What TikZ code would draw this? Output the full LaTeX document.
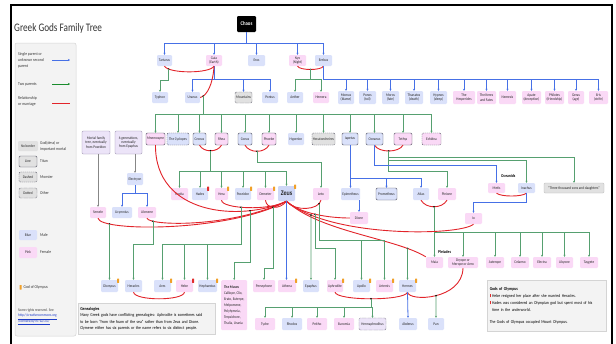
\documentclass[tikz,border=0pt]{standalone}
\usepackage{fontspec}
\setmainfont{Carlito}[FakeStretch=0.86]
\newfontfamily\titlefont{Carlito}[FakeStretch=0.8]
\usetikzlibrary{arrows.meta,intersections}
\pgfdeclarelayer{bg}\pgfsetlayers{bg,main}
\definecolor{bF}{RGB}{218,225,250}
\definecolor{pF}{RGB}{250,217,246}
\definecolor{gF}{RGB}{225,225,225}
\definecolor{lvF}{RGB}{236,228,248}
\definecolor{zF}{RGB}{206,215,246}
\definecolor{tB}{RGB}{85,85,100}
\definecolor{bL}{RGB}{70,112,230}
\definecolor{gL}{RGB}{86,160,112}
\definecolor{gLeg}{RGB}{25,140,45}
\definecolor{rL}{RGB}{226,36,42}
\definecolor{oM}{RGB}{240,160,40}
\definecolor{rM}{RGB}{225,45,45}
\definecolor{gyL}{RGB}{135,135,135}
\definecolor{panel}{RGB}{243,243,243}
\definecolor{panelB}{RGB}{212,212,212}
\definecolor{ocF}{RGB}{232,240,252}
\definecolor{ocB}{RGB}{195,205,225}
\definecolor{plF}{RGB}{222,222,222}
\definecolor{plB}{RGB}{185,185,185}
\definecolor{lnk}{RGB}{30,60,200}
\definecolor{mtB}{RGB}{150,140,170}
\newcommand\nf{\fontsize{3.9}{4.4}\selectfont}
\newcommand\lf{\fontsize{4.3}{6.3}\selectfont}
\newcommand\gf{\fontsize{4.4}{6.3}\selectfont}
\newcommand\GN[7]{\node[#2,minimum width={#4-#3},minimum height={#6-#5}] (#1) at ({(#3+#4)/2},{(#5+#6)/2}) {#7};}
\newcommand\MK[2]{\fill[#2,rounded corners=0.4pt] ([xshift=-1.2pt,yshift=1.2pt]#1.north east) rectangle ++(2.2,4.2);}
\newcommand\VDOT[3]{\path[name path=vtmp] (#2) ++(0,-150) -- ++(0,300); \path[name intersections={of=#1 and vtmp,by=#3}]; \fill (#3) circle (0.9);}
\tikzset{
 bx/.style={rounded corners=1.2pt,inner sep=0pt,align=center,font=\nf,text=black!85},
 bm/.style={bx,fill=bF},
 pf/.style={bx,fill=pF},
 gy/.style={bx,fill=gF},
 lv/.style={bx,fill=lvF},
 ttn/.style={draw=tB,line width=0.45pt},
 mon/.style={draw=tB,line width=0.45pt,dash pattern=on 1.2pt off 0.8pt},
 oth/.style={draw=tB,line width=0.45pt,dash pattern=on 0.45pt off 0.6pt},
 bl/.style={draw=bL,line width=0.8pt},
 gr/.style={draw=gL,line width=0.8pt},
 rd/.style={draw=rL,line width=0.9pt},
 gw/.style={draw=gyL,line width=0.6pt},
 ar/.style={-{Stealth[length=2pt,width=2pt]}},
 lt/.style={anchor=west,align=left,font=\lf,inner sep=0pt,text=black!80},
}
\begin{document}
\begin{tikzpicture}[x=1pt,y=-1pt]
\useasboundingbox (0,0) rectangle (616,343);
\fill[white] (0,0) rectangle (616,343);
\draw[line width=1.8pt] (11,5) rectangle (612,352);
\node[anchor=base west,font=\titlefont\fontsize{11.5}{12}\selectfont,inner sep=0pt,text=black!80] (title) at (14,31) {Greek Gods Family Tree};

% ---------- legend ----------
\draw[panelB,fill=panel,rounded corners=2pt,line width=.5pt] (15,43) rectangle (76,336);
\node[lt,anchor=north west] (lg1) at (18,52) {Single parent or\\unknown second\\parent};
\coordinate (la1) at (52,60); \coordinate (lb1) at (70,60); \draw[bl,ar] (la1) -- (lb1);
\node[lt] (lg2) at (18,84) {Two parents};
\coordinate (la2) at (52,84); \coordinate (lb2) at (70,84); \draw[draw=gLeg,line width=.8pt,ar] (la2) -- (lb2);
\node[lt] (lg3) at (18,101.5) {Relationship\\or marriage};
\coordinate (la3) at (52,103); \coordinate (lb3) at (70,103); \draw[rd] (la3) -- (lb3);
\GN{lnb}{gy}{18}{38}{141}{151}{No border}
\node[lt] (lnbt) at (40,146) {God(dess) or\\important mortal};
\GN{lln}{gy,ttn}{19}{37}{156}{167}{Line}
\node[lt] (llnt) at (40,161.5) {Titan};
\GN{lds}{gy,mon}{19}{37}{172}{182}{Dashed}
\node[lt] (ldst) at (40,177) {Monster};
\GN{ldt}{gy,oth}{19}{37}{188}{198}{Dotted}
\node[lt] (ldtt) at (40,193) {Other};
\GN{lbl}{bm}{19}{37}{230}{240}{Blue}
\node[lt] (lblt) at (40,235) {Male};
\GN{lpk}{pf}{19}{37}{247}{258}{Pink}
\node[lt] (lpkt) at (40,252.5) {Female};
\fill[oM,rounded corners=.4pt] (19.5,285) rectangle (21.7,289.5);
\node[lt] (lgot) at (23.5,287.3) {God of Olympus};
\node[anchor=north west,align=left,font=\fontsize{3.9}{5.5}\selectfont,inner sep=0pt,text=black!75] (cc) at (18,308.5) {Some rights reserved. See\\\textcolor{lnk}{\underline{http://creativecommons.org}}\\\textcolor{lnk}{\underline{/licenses/by-nc-sa/3.0/}}};

% ---------- group boxes ----------
\begin{pgfonlayer}{bg}
\node[draw=ocB,fill=ocF,rounded corners=2.5pt,line width=.5pt,minimum width=120,minimum height=26,anchor=north west,inner sep=0pt] (ocbox) at (487,170) {};
\node[draw=plB,fill=plF,rounded corners=3pt,line width=.5pt,minimum width=178,minimum height=25,anchor=north west,inner sep=0pt] (plbox) at (423,248) {};
\end{pgfonlayer}
\node[anchor=west,font=\bfseries\fontsize{4.3}{5}\selectfont,inner sep=0pt] (oclab) at (501,176) {Oceanids};
\node[anchor=west,font=\bfseries\fontsize{4.3}{5}\selectfont,inner sep=0pt] (pllab) at (438,252) {Pleiades};

% ---------- nodes ----------
\GN{chaos}{bx,fill=black,text=white,font=\bfseries\fontsize{5.5}{6}\selectfont}{237}{256}{16}{32}{Chaos}
\GN{tartarus}{bm}{157}{172}{55}{66}{Tartarus}
\GN{gaia}{pf}{206}{222}{55}{66}{Gaia\\(Earth)}
\GN{eros}{bm}{248}{265}{55}{66}{Eros}
\GN{nyx}{pf}{289}{306}{55}{66}{Nyx\\(Night)}
\GN{erebus}{bm}{315}{332}{55}{66}{Erebus}

\GN{typhon}{bm}{152}{168}{92}{103}{Typhon}
\GN{uranus}{bm}{185}{200}{92}{103}{Uranus}
\GN{mountains}{gy,oth}{235}{252}{92}{103}{Mountains}
\GN{pontus}{bm}{262}{278}{92}{103}{Pontus}
\GN{aether}{bm}{287}{303}{92}{103}{Aether}
\GN{hemera}{pf}{313}{329}{92}{103}{Hemera}
\GN{momus}{bm}{338}{354}{91}{104}{Momus\\(blame)}
\GN{ponos}{bm}{359}{376}{91}{104}{Ponos\\(toil)}
\GN{moros}{bm}{382}{399}{91}{104}{Moros\\(fate)}
\GN{thanatos}{bm}{405}{423}{91}{104}{Thanatos\\(death)}
\GN{hypnos}{bm}{430}{447}{91}{104}{Hypnos\\(sleep)}
\GN{hesperides}{pf}{453}{475}{91}{104}{The\\Hesperides}
\GN{keres}{pf}{477}{496}{91}{104}{The Keres\\and Fates}
\GN{nemesis}{pf}{499}{516}{91}{104}{Nemesis}
\GN{apate}{pf}{522}{541}{91}{104}{Apate\\(deception)}
\GN{philotes}{pf}{545}{564}{91}{104}{Philotes\\(friendship)}
\GN{geras}{pf}{568}{584}{91}{104}{Geras\\(age)}
\GN{eris}{pf}{589}{608}{91}{104}{Eris\\(strife)}

\GN{mnemosyne}{pf,ttn}{146}{165}{133}{145}{Mnemosyne}
\GN{cyclopes}{bm,mon}{167}{189}{133}{145}{The Cyclopes}
\GN{cronus}{bm,ttn}{193}{206}{133}{145}{Cronus}
\GN{rhea}{pf,ttn}{215}{228}{133}{145}{Rhea}
\GN{coeus}{bm,ttn}{238}{252}{133}{145}{Coeus}
\GN{phoebe}{pf,ttn}{262}{276}{133}{145}{Phoebe}
\GN{hyperion}{bm}{288}{304}{133}{145}{Hyperion}
\GN{hecat}{gy,mon}{312}{335}{133}{145}{Hecatoncheires}
\GN{iapetus}{bm,ttn}{342}{358}{133}{145}{Iapetus}
\GN{oceanus}{bm,ttn}{366}{383}{133}{145}{Oceanus}
\GN{tethys}{pf,ttn}{394}{412}{133}{145}{Tethys}
\GN{echidna}{pf,mon}{422}{441}{133}{145}{Echidna}

\GN{mortal}{lv,draw=mtB,line width=.4pt}{82}{110}{131}{154}{Mortal family\\tree, eventually\\from Poseidon}
\GN{sixgen}{lv,draw=mtB,line width=.4pt}{115}{142}{131}{154}{6 generations,\\eventually\\from Epaphus}
\GN{electryon}{bm}{127}{143}{173}{185}{Electryon}
\GN{semele}{pf}{90}{106}{207}{218}{Semele}
\GN{licymnius}{bm}{112}{132}{207}{218}{Licymnius}
\GN{alcmene}{pf}{138}{156}{207}{218}{Alcmene}

\GN{hestia}{pf}{171}{188}{188}{200}{Hestia}
\GN{hades}{bm}{192}{208}{188}{200}{Hades}
\GN{hera}{pf}{215}{228}{188}{200}{Hera}
\GN{poseidon}{bm}{235}{251}{188}{200}{Poseidon}
\GN{demeter}{pf}{257}{274}{188}{200}{Demeter}
\GN{zeus}{bx,fill=zF,font=\bfseries\fontsize{7}{7}\selectfont}{278}{295}{186}{201}{Zeus}
\GN{leto}{pf}{313}{329}{188}{200}{Leto}
\GN{epimetheus}{bm}{341}{360}{188}{200}{Epimetheus}
\GN{prometheus}{bm,ttn}{376}{397}{188}{200}{Prometheus}
\GN{atlas}{bm}{413}{429}{188}{200}{Atlas}
\GN{pleione}{pf}{438}{456}{188}{200}{Pleione}
\GN{dione}{pf}{350}{368}{212}{224}{Dione}

\GN{metis}{pf}{488}{505}{183}{193}{Metis}
\GN{inachus}{bm}{518}{535}{183}{193}{Inachus}
\GN{three}{gy,draw=plB,line width=.4pt}{544}{604}{183}{193}{``Three thousand sons and daughters''}
\GN{io}{pf}{465}{482}{213}{224}{Io}

\GN{maia}{pf}{426}{443}{257}{268}{Maia}
\GN{dryope}{pf}{448}{478}{257}{268}{Dryope or\\Merope or Aero}
\GN{asterope}{pf}{486}{504}{257}{268}{Asterope}
\GN{celaeno}{pf}{511}{529}{257}{268}{Celaeno}
\GN{electra}{pf}{533}{551}{257}{268}{Electra}
\GN{alcyone}{pf}{556}{573}{257}{268}{Alcyone}
\GN{taygete}{pf}{580}{598}{257}{268}{Taygete}

\GN{dionysus}{bm}{101}{118}{280}{292}{Dionysus}
\GN{heracles}{bm}{125}{142}{280}{292}{Heracles}
\GN{ares}{bm}{154}{171}{280}{292}{Ares}
\GN{hebe}{pf}{176}{193}{280}{292}{Hebe}
\GN{hephaestus}{bm}{198}{217}{280}{292}{Hephaestus}
\node[pf,align=left,minimum width=26,minimum height=50,anchor=north west,font=\fontsize{3.9}{6}\selectfont] (muses) at (221,280) {\textbf{The Muses}\\Calliope, Clio,\\Erato, Euterpe,\\Melpomene,\\Polyhymnia,\\Terpsichore,\\Thalia, Urania};
\GN{persephone}{pf}{253}{275}{280}{292}{Persephone}
\GN{athena}{pf}{278}{296}{280}{292}{Athena}
\GN{epaphus}{bm}{303}{319}{280}{292}{Epaphus}
\GN{aphrodite}{pf}{327}{343}{280}{292}{Aphrodite}
\GN{apollo}{bm}{353}{370}{280}{292}{Apollo}
\GN{artemis}{pf}{376}{393}{280}{292}{Artemis}
\GN{hermes}{bm}{399}{416}{280}{292}{Hermes}

\GN{tyche}{pf}{255}{275}{318}{330}{Tyche}
\GN{rhodos}{bm}{282}{302}{318}{330}{Rhodos}
\GN{peitho}{pf}{307}{327}{318}{330}{Peitho}
\GN{eunomia}{pf}{334}{354}{318}{330}{Eunomia}
\GN{herma}{lv,oth}{359}{386}{318}{330}{Hermaphroditus}
\GN{abderus}{bm}{399}{417}{318}{330}{Abderus}
\GN{pan}{bm}{428}{444}{318}{330}{Pan}

% markers
\MK{dionysus}{oM}\MK{ares}{oM}\MK{hebe}{rM}\MK{hephaestus}{oM}\MK{athena}{oM}
\MK{aphrodite}{oM}\MK{apollo}{oM}\MK{artemis}{oM}\MK{hermes}{oM}
\MK{hades}{rM}\MK{hera}{oM}\MK{poseidon}{oM}\MK{demeter}{oM}\MK{zeus}{oM}

% info boxes
\node[draw=panelB,fill=panel,anchor=north west,inner sep=1.8pt,align=left,font=\gf,minimum width=137,minimum height=31,text width=133,line width=.5pt] (geneal) at (78,303) {\textbf{Genealogies}\\Many Greek gods have conflicting genealogies: Aphrodite is sometimes said\\to be born ``from the foam of the sea'' rather than from Zeus and Dione.\\Clymene either has six parents or the name refers to six distinct people.};
\node[draw=panelB,fill=panel,anchor=north west,inner sep=2pt,align=left,font=\fontsize{4.4}{7}\selectfont,minimum width=119,minimum height=51,text width=114,line width=.5pt] (olymp) at (487,280) {\textbf{Gods of Olympus}\\\textcolor{rM}{\rule{1.6pt}{3pt}}\,Hebe resigned her place after she married Heracles.\\\textcolor{rM}{\rule{1.6pt}{3pt}}\,Hades was considered an Olympian god but spent most of his\\\hspace*{2.6pt}time in the underworld.\\[5pt]The Gods of Olympus occupied Mount Olympus.};

% ---------- level coordinates ----------
\coordinate (lvlA) at (0,43);
\coordinate (lvlB) at (0,79);
\coordinate (lvlT) at (0,114);
\coordinate (lvlL) at (0,162);
\coordinate (lvlO1) at (0,157);
\coordinate (lvlO2) at (0,160);
\coordinate (lvlO3) at (0,165);
\coordinate (lvlC) at (0,171);
\coordinate (lvlI) at (0,178);
\coordinate (lvlE) at (0,193);
\coordinate (lvlIo) at (0,202);
\coordinate (lvlPl) at (0,232);
\coordinate (lvlAp) at (0,240);
\coordinate (lvlHe) at (0,244);
\coordinate (lvlAf) at (0,248);
\coordinate (lvlMu) at (0,262);
\coordinate (lvlPe) at (0,268);
\coordinate (lvlBt) at (0,307);

% ---------- Chaos ----------
\draw[bl] (chaos.south) -- (chaos.south |- lvlA);
\draw[bl] (tartarus.north |- lvlA) -- (erebus.north |- lvlA);
\foreach \n in {tartarus,gaia,eros,nyx,erebus} \draw[bl,ar] (\n.north |- lvlA) -- (\n.north);

% Tartarus + Gaia
\draw[rd] (tartarus.south) to[out=-60,in=-120,looseness=.45] coordinate[pos=.15] (tgdot) (gaia.south);
\fill (tgdot) circle (0.9);
\draw[gr,ar] (tgdot) -- ++(0,11) -| (typhon.north);
% Gaia alone
\draw[bl] (gaia.south) -- (gaia.south |- lvlB);
\draw[bl] (uranus.north |- lvlB) -- (pontus.north |- lvlB);
\foreach \n in {uranus,mountains,pontus} \draw[bl,ar] (\n.north |- lvlB) -- (\n.north);
% Gaia + Uranus
\draw[rd] (gaia.south) .. controls (213,84) and (207,96) .. coordinate[pos=.85] (gudot) (uranus.east);
\fill (gudot) circle (0.9);
\draw[gr] (gudot) -- (gudot |- lvlT);
\draw[gr] (mnemosyne.north |- lvlT) -- (echidna.north |- lvlT);
\foreach \n in {mnemosyne,cyclopes,cronus,rhea,coeus,phoebe,hyperion,hecat,iapetus,oceanus,tethys,echidna} \draw[gr,ar] (\n.north |- lvlT) -- (\n.north);
% Nyx + Erebus
\draw[rd] (nyx.south) to[out=-60,in=-120,looseness=.5] coordinate[pos=.5] (nedot) (erebus.south);
\fill (nedot) circle (0.9);
\draw[gr] (nedot) -- (nedot |- lvlB);
\draw[gr] (aether.north |- lvlB) -- (hemera.north |- lvlB);
\foreach \n in {aether,hemera} \draw[gr,ar] (\n.north |- lvlB) -- (\n.north);
% Nyx/Erebus line
\draw[bl] (erebus.south) -- (erebus.south |- lvlB) -- (eris.north |- lvlB);
\foreach \n in {momus,ponos,moros,thanatos,hypnos,hesperides,keres,nemesis,apate,philotes,geras,eris} \draw[bl,ar] (\n.north |- lvlB) -- (\n.north);

% Cronus + Rhea
\draw[rd] (cronus.south) to[out=-60,in=-120] coordinate[pos=.5] (crdot) (rhea.south);
\fill (crdot) circle (0.9);
\draw[gr] (crdot) -- (crdot |- lvlC);
\draw[gr] (hestia.north |- lvlC) -- (zeus.north |- lvlC);
\foreach \n in {hestia,hades,hera,poseidon,demeter,zeus} \draw[gr,ar] (\n.north |- lvlC) -- (\n.north);
% Coeus + Phoebe
\draw[rd] (coeus.south) to[out=-60,in=-120] coordinate[pos=.5] (cpdot) (phoebe.south);
\fill (cpdot) circle (0.9);
\draw[gr,ar] (cpdot) |- (leto.north |- lvlL) -- (leto.north);
% Iapetus
\draw[bl] (iapetus.south) -- (iapetus.south |- lvlI);
\draw[bl] (epimetheus.north |- lvlI) -- (atlas.north |- lvlI);
\foreach \n in {epimetheus,prometheus,atlas} \draw[bl,ar] (\n.north |- lvlI) -- (\n.north);
\draw[bl,ar] (dione.north |- epimetheus.south) -- (dione.north);
% Oceanus + Tethys
\draw[rd] (oceanus.south) to[out=-60,in=-120,looseness=.8] coordinate[pos=.5] (otdot) (tethys.south);
\fill (otdot) circle (0.9);
\draw[gr,ar] (otdot) |- (pleione.north |- lvlC) -- (pleione.north);
\draw[gr,ar] (otdot) |- (three.north |- lvlO1) -- (three.north);
\draw[gr,ar] (otdot) |- (inachus.north |- lvlO2) -- (inachus.north);
\draw[bl,ar] (oceanus.south) |- (metis.north |- lvlO3) -- (metis.north);
% Metis, Inachus, Io
\draw[rd] (metis.south) to[out=-40,in=-140,looseness=.5] (inachus.south);
\draw[bl,ar] (inachus.south) |- (io.north |- lvlIo) -- (io.north);
% Atlas + Pleione
\draw[rd] (atlas.south) to[out=-60,in=-120] coordinate[pos=.5] (apdot) (pleione.south);
\fill (apdot) circle (0.9);
\draw[gr] (apdot) -- (apdot |- lvlPl);
\draw[gr] (maia.north |- lvlPl) -- (taygete.north |- lvlPl);
\foreach \n in {maia,dryope,asterope,celaeno,electra,alcyone,taygete} \draw[gr,ar] (\n.north |- lvlPl) -- (\n.north);
% mortals
\draw[gw,ar] (semele.north |- mortal.south) -- (semele.north);
\draw[gw,ar] (electryon.north |- sixgen.south) -- (electryon.north);
\draw[bl] (electryon.south) -- (electryon.south |- lvlE);
\draw[bl] (licymnius.north |- lvlE) -- (alcmene.north |- lvlE);
\foreach \n in {licymnius,alcmene} \draw[bl,ar] (\n.north |- lvlE) -- (\n.north);

% ---------- Zeus ----------
\coordinate (xA) at (241,200);
\coordinate (xB) at (273,200);
\coordinate (xC) at (250,200);
\coordinate (xD) at (153,200);
\coordinate (xE) at (319,200);
\coordinate (xF) at (315,200);
\draw[rd,name path=cHera] (hera.south) .. controls (222,209) and (270,211) .. (zeus.south);
\draw[rd,name path=cDem] (demeter.south) .. controls (266,209) and (280,210) .. (zeus.south);
\draw[rd,name path=cMne] (mnemosyne.south) .. controls (155,215) and (240,222) .. (zeus.south);
\draw[rd,name path=cSem] (semele.south) .. controls (100,232) and (230,232) .. (zeus.south);
\draw[rd,name path=cAlc] (alcmene.south) .. controls (149,226) and (230,228) .. (zeus.south);
\draw[rd,name path=cLeto] (leto.south) .. controls (319,210) and (295,212) .. (zeus.south);
\draw[rd,name path=cDio] (dione.west) .. controls (330,218) and (300,214) .. (zeus.south);
\draw[rd,name path=cIo] (io.south) .. controls (460,236) and (330,238) .. (zeus.south);
\draw[rd,name path=cMaia] (zeus.south) .. controls (320,232) and (395,238) .. (maia.north west);
\VDOT{cHera}{xA}{zhdot}
\VDOT{cDem}{xB}{zddot}
\VDOT{cMne}{xC}{zmdot}
\VDOT{cSem}{dionysus.north}{zsdot}
\VDOT{cAlc}{xD}{zadot}
\VDOT{cLeto}{xE}{zldot}
\VDOT{cDio}{xF}{zdidot}
\VDOT{cIo}{epaphus.north}{zidot}
\VDOT{cMaia}{hermes.north}{zmadot}
\draw[gr] (zhdot) |- (ares.north |- lvlHe);
\foreach \n in {ares,hebe,hephaestus} \draw[gr,ar] (\n.north |- lvlHe) -- (\n.north);
\draw[gr,ar] (zadot) |- (heracles.north |- lvlHe) -- (heracles.north);
\draw[gr,ar] (zsdot) -- (dionysus.north);
\draw[gr,ar] (zmdot) |- (muses.north |- lvlMu) -- (muses.north);
\draw[gr,ar] (zddot) |- (persephone.north |- lvlPe) -- (persephone.north);
\draw[gr] (zldot) |- (artemis.north |- lvlAp);
\foreach \n in {apollo,artemis} \draw[gr,ar] (\n.north |- lvlAp) -- (\n.north);
\draw[gr,ar] (zdidot) |- (aphrodite.north |- lvlAf) -- (aphrodite.north);
\draw[gr,ar] (zidot) -- (epaphus.north);
\draw[gr,ar] (zmadot) -- (hermes.north);
\draw[bl,ar] (zeus.south) -- (zeus.south |- athena.north);

% Heracles + Hebe
\draw[rd] (heracles.south) .. controls (135,301) and (183,301) .. (hebe.south);
% Aphrodite + Hermes
\draw[rd] (aphrodite.south) .. controls (337,301) and (405,301) .. coordinate[pos=.5] (ahdot) (hermes.south);
\fill (ahdot) circle (0.9);
\draw[gr] (ahdot) -- (ahdot |- lvlBt);
\draw[gr] (tyche.north |- lvlBt) -- (herma.north |- lvlBt);
\foreach \n in {tyche,rhodos,peitho,eunomia,herma} \draw[gr,ar] (\n.north |- lvlBt) -- (\n.north);
% Hermes + Dryope
\draw[rd,name path=cHD] (hermes.south) .. controls (409,302) and (462,300) .. (dryope.south);
\VDOT{cHD}{pan.north}{hpdot}
\draw[gr,ar] (hpdot) -- (pan.north);
\draw[bl,ar] (hermes.south) -- (abderus.north);
\end{tikzpicture}
\end{document}
